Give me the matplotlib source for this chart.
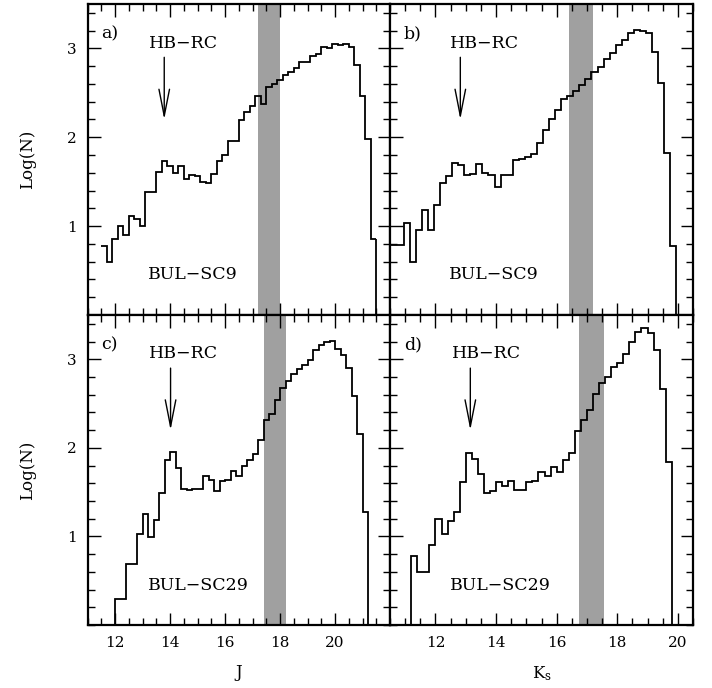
import numpy as np
import matplotlib
matplotlib.use("Agg")
import matplotlib.pyplot as plt
from matplotlib.ticker import MultipleLocator, FixedLocator

plt.rcParams['font.family'] = ['DejaVu Serif']
plt.rcParams['mathtext.fontset'] = 'dejavuserif'

BIN = 0.2

# log(N) per 0.2 mag bin
a_start = 11.5
a_vals = [0.78, 0.60, 0.85, 1.00, 0.90, 1.11, 1.08, 1.00, 1.38, 1.38,
          1.61, 1.73, 1.68, 1.60, 1.68, 1.53, 1.57, 1.56, 1.50, 1.49,
          1.59, 1.73, 1.80, 1.96, 1.96, 2.19, 2.28, 2.35, 2.47, 2.38,
          2.57, 2.60, 2.64, 2.70, 2.74, 2.78, 2.85, 2.85, 2.92, 2.94,
          3.02, 3.00, 3.05, 3.04, 3.05, 3.02, 2.81, 2.46, 1.98, 0.85]

b_start = 10.35
b_vals = [0.79, 0.79, 0.79, 1.04, 0.60, 0.96, 1.18, 0.96, 1.24, 1.49,
          1.56, 1.71, 1.69, 1.58, 1.59, 1.70, 1.60, 1.58, 1.44, 1.58,
          1.57, 1.74, 1.76, 1.78, 1.81, 1.93, 2.08, 2.20, 2.31, 2.43,
          2.47, 2.52, 2.59, 2.66, 2.74, 2.79, 2.88, 2.95, 3.04, 3.10,
          3.17, 3.21, 3.20, 3.17, 2.96, 2.61, 1.82, 0.78]

c_start = 12.0
c_vals = [0.29, 0.29, 0.69, 0.69, 1.03, 1.25, 0.99, 1.18, 1.49, 1.86,
          1.95, 1.77, 1.53, 1.52, 1.54, 1.53, 1.68, 1.64, 1.51, 1.62,
          1.64, 1.74, 1.68, 1.79, 1.86, 1.93, 2.09, 2.31, 2.38, 2.54,
          2.68, 2.75, 2.83, 2.89, 2.94, 2.99, 3.10, 3.16, 3.20, 3.21,
          3.12, 3.05, 2.90, 2.58, 2.16, 1.28]

d_start = 11.2
d_vals = [0.78, 0.60, 0.60, 0.90, 1.20, 1.03, 1.17, 1.27, 1.61, 1.94,
          1.87, 1.70, 1.49, 1.51, 1.61, 1.57, 1.63, 1.52, 1.52, 1.61,
          1.63, 1.73, 1.68, 1.78, 1.73, 1.86, 1.94, 2.19, 2.31, 2.43,
          2.61, 2.73, 2.80, 2.91, 2.96, 3.06, 3.20, 3.31, 3.35, 3.30,
          3.10, 2.66, 1.84]

# shaded magnitude bands
bands = {'a': (17.2, 18.0), 'b': (16.4, 17.2), 'c': (17.4, 18.2), 'd': (16.75, 17.55)}
# HB-RC arrow x position
rc_mag = {'a': 13.79, 'b': 12.82, 'c': 14.02, 'd': 13.15}
rc_text_x = {'a': 14.48, 'b': 13.61, 'c': 14.51, 'd': 13.70}
field_x = {'a': 14.82, 'b': 13.94, 'c': 15.02, 'd': 14.14}
fields = {'a': 'BUL\u2212SC9', 'b': 'BUL\u2212SC9', 'c': 'BUL\u2212SC29', 'd': 'BUL\u2212SC29'}

fig = plt.figure(figsize=(7.12, 6.88), dpi=100)
L, R, B, T = 0.1229, 0.9733, 0.0916, 0.9942
xm = 0.5478
ym = 0.5422
ax_a = fig.add_axes([L, ym, xm - L, T - ym])
ax_b = fig.add_axes([xm, ym, R - xm, T - ym])
ax_c = fig.add_axes([L, B, xm - L, ym - B])
ax_d = fig.add_axes([xm, B, R - xm, ym - B])

panels = [('a', ax_a, a_start, a_vals, (11, 22)),
          ('b', ax_b, b_start, b_vals, (10.5, 20.5)),
          ('c', ax_c, c_start, c_vals, (11, 22)),
          ('d', ax_d, d_start, d_vals, (10.5, 20.5))]

for key, ax, start, vals, xl in panels:
    vals = np.array(vals)
    edges = start + BIN * np.arange(len(vals) + 1)
    ax.axvspan(bands[key][0], bands[key][1], color='#a0a0a0', lw=0, zorder=1)
    if key == 'a':
        ax.stairs(vals, edges, baseline=None, color='k', lw=1.3, zorder=3)
        ax.vlines(edges[-1], 0, vals[-1], color='k', lw=1.3, zorder=3)
    else:
        ax.stairs(vals, edges, baseline=0, color='k', lw=1.3, zorder=3)

    ax.set_xlim(*xl)
    ax.set_ylim(0, 3.5)
    ax.xaxis.set_major_locator(FixedLocator([12, 14, 16, 18, 20]))
    ax.xaxis.set_minor_locator(MultipleLocator(0.5))
    ax.yaxis.set_major_locator(FixedLocator([1, 2, 3]))
    ax.yaxis.set_minor_locator(MultipleLocator(0.2))
    ax.tick_params(which='both', direction='in', top=True, right=True, labelsize=11)
    ax.tick_params(which='major', length=9, width=1.0, pad=8)
    ax.tick_params(which='minor', length=5, width=1.0)
    for s in ax.spines.values():
        s.set_linewidth(1.6)
        s.set_zorder(5)

    ax.text(0.045, 0.905, key + ')', transform=ax.transAxes, fontsize=12.5,
            va='center', ha='left')
    ax.text(rc_text_x[key], 3.06, 'HB\u2212RC', fontsize=12.5, ha='center', va='center')
    ax.annotate('', xy=(rc_mag[key], 2.20), xytext=(rc_mag[key], 2.90),
                arrowprops=dict(arrowstyle='->,head_length=0.96,head_width=0.19',
                                lw=1.0, color='k', shrinkA=0, shrinkB=0,
                                mutation_scale=20))
    ax.text(field_x[key], 0.45, fields[key], fontsize=12.5, ha='center', va='center')

for ax in (ax_a, ax_b):
    ax.tick_params(labelbottom=False)
for ax in (ax_b, ax_d):
    ax.tick_params(labelleft=False)

ax_a.set_ylabel('Log(N)', fontsize=12, labelpad=22)
ax_c.set_ylabel('Log(N)', fontsize=12, labelpad=22)
ax_c.set_xlabel('J', fontsize=12, labelpad=10)
ax_d.set_xlabel(r'K$_{\rm s}$', fontsize=12, labelpad=10)

fig.savefig('out.png', dpi=100)
